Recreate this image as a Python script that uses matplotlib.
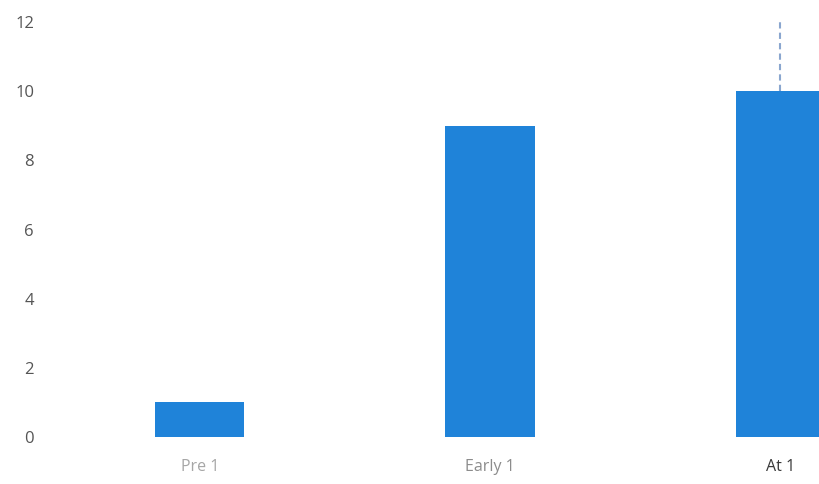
import numpy as np
import matplotlib.pyplot as plt

categories = ["Pre 1", "Early 1", "At 1"]
values = [1, 9, 10]
# dashed marker above the last bar (from bar top up to this value)
marker_top = 12
label_colors = ["#a6a6a6", "#8c8c8c", "#3a3a3a"]

plt.rcParams['font.family'] = ['Open Sans', 'DejaVu Sans']

fig = plt.figure(figsize=(8.19, 4.84), dpi=100)
ax = fig.add_axes([0.067, 0.097, 0.933, 0.8575])

x = np.arange(len(categories))
ax.bar(x, values, width=0.307, color="#1f83d9", zorder=2)
ax.vlines(x[2], values[2], marker_top, colors="#8aa6cf", linestyles=(0, (3, 2)),
          linewidth=1.5, zorder=1)

ax.set_xlim(-0.5, 2.134)
ax.set_ylim(0, 12)
ax.set_yticks(range(0, 13, 2))
ax.set_xticks(x)
ax.set_xticklabels(categories, fontsize=11.5)
for lbl, c in zip(ax.get_xticklabels(), label_colors):
    lbl.set_color(c)
ax.tick_params(axis='y', labelsize=12, labelcolor="#555555", length=0, pad=15)
ax.tick_params(axis='x', length=0, pad=16)

for s in ax.spines.values():
    s.set_visible(False)

fig.savefig("out.png", dpi=100)
